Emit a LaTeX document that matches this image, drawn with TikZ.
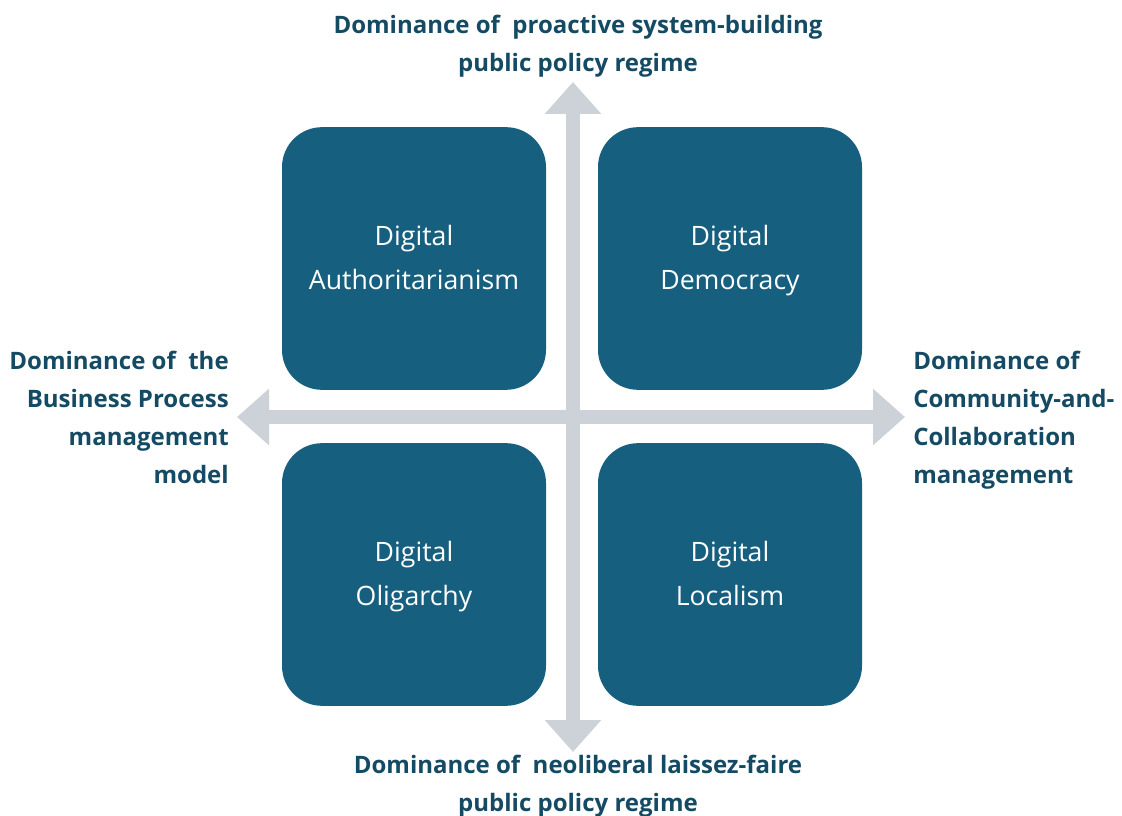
\documentclass[tikz,border=0pt]{standalone}
\usepackage{fontspec}
\setmainfont{Open Sans}
\usetikzlibrary{arrows.meta}
\definecolor{quadfill}{RGB}{23,95,127}
\definecolor{axisgray}{RGB}{205,210,217}
\definecolor{labelink}{RGB}{20,74,99}
\begin{document}
\begin{tikzpicture}[x=0.75pt,y=-0.75pt,
  quad/.style={draw=none,fill=quadfill,rounded corners=30pt,
    minimum width=198pt,minimum height=197pt},
  quadtext/.style={text=white,align=center,font=\fontsize{20}{33}\selectfont,
    execute at begin node=\strut,execute at end node=\strut},
  axislabel/.style={text=labelink,font=\bfseries\fontsize{18}{28.5}\selectfont,inner sep=0pt,
    execute at begin node=\strut,execute at end node=\strut},
  axis/.style={line width=11pt,draw=axisgray,
    {Triangle[width=41pt,length=24pt]}-{Triangle[width=41pt,length=24pt]}}]
\useasboundingbox (0,0) rectangle (1122,816);
% axes
\coordinate (top) at (573,82);
\coordinate (bottom) at (573,752);
\coordinate (left) at (237,417);
\coordinate (right) at (905,417);
\draw[axis] (bottom) -- (top);
\draw[axis] (left) -- (right);
% quadrants
\node[quad] (auth) at (414,258.5) {};
\node[quad] (demo) at (730,258.5) {};
\node[quad] (olig) at (414,574.5) {};
\node[quad] (local) at (730,574.5) {};
\node[quadtext] (authtxt) at ([yshift=-3.75pt]auth.center) {Digital\\Authoritarianism};
\node[quadtext] (demotxt) at ([yshift=-3.75pt]demo.center) {Digital\\Democracy};
\node[quadtext] (oligtxt) at ([yshift=-3.75pt]olig.center) {Digital\\Oligarchy};
\node[quadtext] (localtxt) at ([yshift=-3.75pt]local.center) {Digital\\Localism};
% axis labels
\node[axislabel,align=center] (ltop) at (578,49) {Dominance of\ \ proactive system-building\\public policy regime};
\node[axislabel,align=center] (lbottom) at (578,789.5) {Dominance of\ \ neoliberal laissez-faire\\public policy regime};
\node[axislabel,align=right,anchor=east] (lleft) at (229,423.5) {Dominance of\ \ the\\Business Process\\management\\model};
\node[axislabel,align=left,anchor=west] (lright) at (913,423.5) {Dominance of\\Community-and-\\Collaboration\\management};
\end{tikzpicture}
\end{document}
